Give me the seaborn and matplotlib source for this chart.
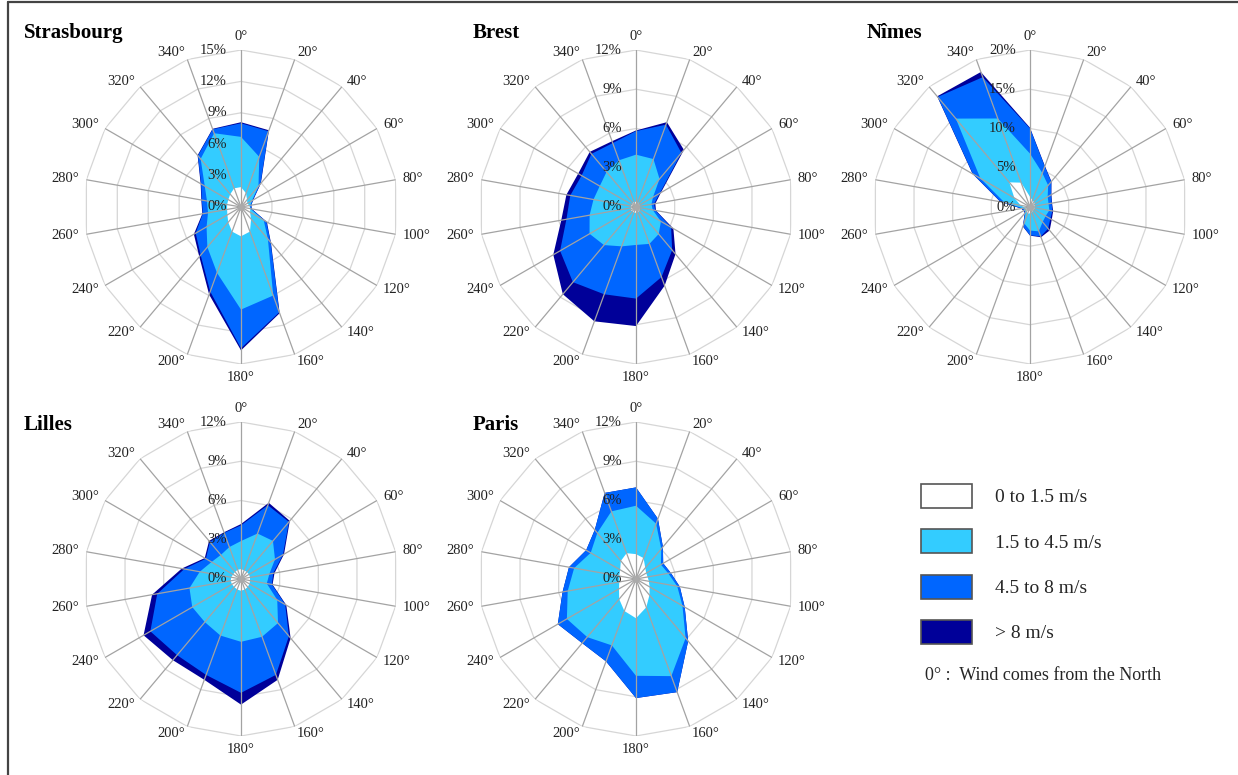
import numpy as np
import matplotlib
matplotlib.use("Agg")
import matplotlib.pyplot as plt
from matplotlib.patches import Patch
from matplotlib.lines import Line2D
import seaborn as sns

directions = list(range(0, 360, 20))

# cumulative frequency (%) by direction: <=1.5 m/s, <=4.5 m/s, <=8 m/s, all speeds
strasbourg_15 = [1.9, 1.4, 0.9, 0.7, 0.8, 0.9, 1.0, 1.5, 2.5, 2.8, 2.5, 1.9, 1.5, 1.35, 1.35, 1.4, 1.6, 1.9]
strasbourg_45 = [6.7, 5.1, 2.6, 1.2, 0.9, 0.9, 2.5, 4.0, 9.0, 9.8, 6.7, 5.0, 3.8, 3.2, 3.3, 4.0, 6.0, 7.5]
strasbourg_8 = [8.0, 7.7, 2.9, 1.3, 1.0, 1.0, 2.8, 4.4, 10.7, 13.5, 8.6, 6.0, 5.0, 3.7, 3.8, 4.4, 6.4, 7.9]
strasbourg_all = [8.1, 7.8, 2.95, 1.35, 1.0, 1.05, 2.85, 4.45, 10.8, 13.7, 8.9, 6.2, 5.2, 3.75, 3.85, 4.45, 6.45, 7.95]

brest_15 = [0.4, 0.4, 0.35, 0.3, 0.3, 0.3, 0.35, 0.4, 0.4, 0.45, 0.45, 0.45, 0.45, 0.4, 0.4, 0.4, 0.4, 0.4]
brest_45 = [4.0, 3.9, 2.8, 1.5, 1.2, 1.3, 2.2, 2.7, 3.0, 2.9, 3.2, 3.8, 4.1, 3.6, 3.3, 3.2, 3.5, 3.8]
brest_8 = [5.8, 6.7, 5.4, 2.1, 1.4, 1.5, 3.1, 4.3, 5.7, 7.0, 7.1, 7.5, 6.7, 5.4, 5.1, 4.8, 5.3, 5.2]
brest_all = [5.85, 6.9, 5.7, 2.2, 1.5, 1.55, 3.3, 4.7, 6.4, 9.1, 9.3, 8.7, 7.3, 5.8, 5.4, 5.1, 5.5, 5.35]

nimes_15 = [1.3, 0.9, 0.8, 0.7, 0.6, 0.6, 0.6, 0.6, 0.7, 0.8, 0.9, 0.7, 0.6, 0.6, 1.2, 2.3, 4.1, 3.3]
nimes_45 = [6.8, 4.6, 3.6, 2.6, 2.4, 2.5, 2.3, 2.5, 3.3, 3.0, 2.2, 0.9, 0.8, 0.9, 3.3, 7.3, 14.7, 12.0]
nimes_8 = [10.0, 5.5, 4.2, 3.1, 2.8, 2.9, 3.0, 3.6, 4.0, 3.6, 2.6, 1.0, 0.9, 1.1, 3.8, 8.4, 18.3, 17.6]
nimes_all = [10.1, 5.55, 4.25, 3.15, 2.85, 3.0, 3.2, 3.9, 4.1, 3.65, 2.65, 1.05, 0.95, 1.15, 3.85, 8.45, 18.4, 18.3]

lilles_15 = [0.75, 0.7, 0.7, 0.7, 0.7, 0.7, 0.75, 0.8, 0.85, 0.9, 0.85, 0.8, 0.8, 0.8, 0.75, 0.7, 0.7, 0.75]
lilles_45 = [2.9, 3.7, 3.8, 3.0, 2.2, 2.0, 3.2, 4.4, 4.7, 4.8, 4.6, 4.3, 4.3, 4.0, 3.2, 2.6, 2.4, 2.6]
lilles_8 = [4.1, 6.0, 5.7, 3.7, 2.5, 2.4, 3.9, 5.7, 7.8, 8.7, 7.8, 7.6, 8.0, 6.5, 4.4, 3.1, 3.7, 3.75]
lilles_all = [4.2, 6.2, 5.8, 3.8, 2.6, 2.45, 4.0, 5.9, 8.2, 9.6, 8.2, 8.1, 8.6, 6.9, 4.6, 3.2, 3.8, 3.8]

paris_15 = [1.9, 1.7, 1.1, 0.9, 0.9, 1.0, 1.2, 1.6, 2.3, 3.0, 2.6, 2.0, 1.5, 1.3, 1.3, 1.4, 1.8, 2.1]
paris_45 = [5.6, 4.5, 3.0, 2.2, 2.5, 3.2, 4.1, 5.9, 7.9, 7.4, 5.4, 5.8, 6.1, 5.3, 4.8, 4.0, 4.6, 5.5]
paris_8 = [7.0, 4.9, 3.2, 2.4, 2.7, 3.4, 4.3, 6.2, 9.2, 9.1, 6.7, 6.4, 6.9, 5.7, 5.2, 4.4, 4.9, 7.0]
paris_all = [7.0, 4.9, 3.2, 2.4, 2.7, 3.4, 4.3, 6.2, 9.2, 9.1, 6.7, 6.4, 6.9, 5.7, 5.2, 4.4, 4.9, 7.0]

cities = ["Strasbourg", "Brest", "Nîmes", "Lilles", "Paris"]
city_data = [
    [strasbourg_15, strasbourg_45, strasbourg_8, strasbourg_all],
    [brest_15, brest_45, brest_8, brest_all],
    [nimes_15, nimes_45, nimes_8, nimes_all],
    [lilles_15, lilles_45, lilles_8, lilles_all],
    [paris_15, paris_45, paris_8, paris_all],
]
radial_ticks = [
    [0, 3, 6, 9, 12, 15],
    [0, 3, 6, 9, 12],
    [0, 5, 10, 15, 20],
    [0, 3, 6, 9, 12],
    [0, 3, 6, 9, 12],
]
class_labels = ["0 to 1.5 m/s", "1.5 to 4.5 m/s", "4.5 to 8 m/s", "> 8 m/s"]

colors = sns.color_palette(["#ffffff", "#33ccff", "#0066ff", "#000099"])

sns.set_theme(style="white")
plt.rcParams["font.family"] = ["Liberation Serif", "DejaVu Serif"]

W, H = 1238, 775
fig = plt.figure(figsize=(W / 100, H / 100), dpi=100)

centers = [(241, 207), (636, 207), (1030, 207), (241, 579), (636, 579)]
title_pos = [(24, 33), (473, 33), (867, 33), (24, 425), (473, 425)]
R = 157

theta = np.deg2rad(directions + [360])

for i, city in enumerate(cities):
    cx, cy = centers[i]
    ax = fig.add_axes([(cx - R) / W, 1 - (cy + R) / H, 2 * R / W, 2 * R / H], projection="polar")
    ax.set_theta_zero_location("N")
    ax.set_theta_direction(-1)
    ticks = radial_ticks[i]
    rmax = ticks[-1]
    ax.set_ylim(0, rmax)
    ax.set_axis_off()

    # polygon rings
    for t in ticks[1:]:
        ax.plot(theta, [t] * len(theta), color="#d6d6d6", lw=0.9, zorder=1)

    # stacked layers, outermost first
    for vals, c in zip(reversed(city_data[i]), reversed(colors)):
        ax.fill(theta, list(vals) + [vals[0]], color=c, lw=0, zorder=2)

    # spokes
    for d in directions:
        ax.plot([np.deg2rad(d)] * 2, [0, rmax], color="#a3a3a3", lw=0.9, zorder=3)
    ax.plot(0, 0, "o", color="#aaaaaa", ms=4, zorder=4)

    # direction labels
    for d in directions:
        s, c = np.sin(np.deg2rad(d)), np.cos(np.deg2rad(d))
        ha = "left" if s > 0.05 else ("right" if s < -0.05 else "center")
        va = "bottom" if c > 0.95 else ("top" if c < -0.95 else "center")
        ax.text(np.deg2rad(d), rmax * 1.045, f"{d}°", ha=ha, va=va, fontsize=10.5, color="#222222")

    # radial labels
    for t in ticks:
        ax.annotate(f"{t}%", xy=(0, t), xytext=(-14, 0), textcoords="offset pixels",
                    ha="right", va="center", fontsize=10.5, color="#222222", zorder=5)

    fig.text(title_pos[i][0] / W, 1 - title_pos[i][1] / H, city, fontsize=15,
             fontweight="bold", ha="left", va="center", color="black")

handles = [Patch(facecolor=c, edgecolor="#555555", lw=1.2, label=l) for c, l in zip(colors, class_labels)]
fig.legend(handles=handles, loc="upper left", bbox_to_anchor=(921 / W, 1 - 484 / H),
           frameon=False, fontsize=14, handlelength=2.62, handleheight=1.52,
           labelspacing=1.1, handletextpad=1.18, borderpad=0, borderaxespad=0)
fig.text(925 / W, 1 - 676 / H, "0° :  Wind comes from the North", fontsize=13, va="center")

# frame lines on top and left
fig.add_artist(Line2D([7.5 / W, 1], [1 - 1.5 / H, 1 - 1.5 / H], transform=fig.transFigure, color="#444444", lw=1.6))
fig.add_artist(Line2D([7.5 / W, 7.5 / W], [0, 1 - 1.5 / H], transform=fig.transFigure, color="#444444", lw=1.6))

fig.savefig("out.png", dpi=100, facecolor="white")
